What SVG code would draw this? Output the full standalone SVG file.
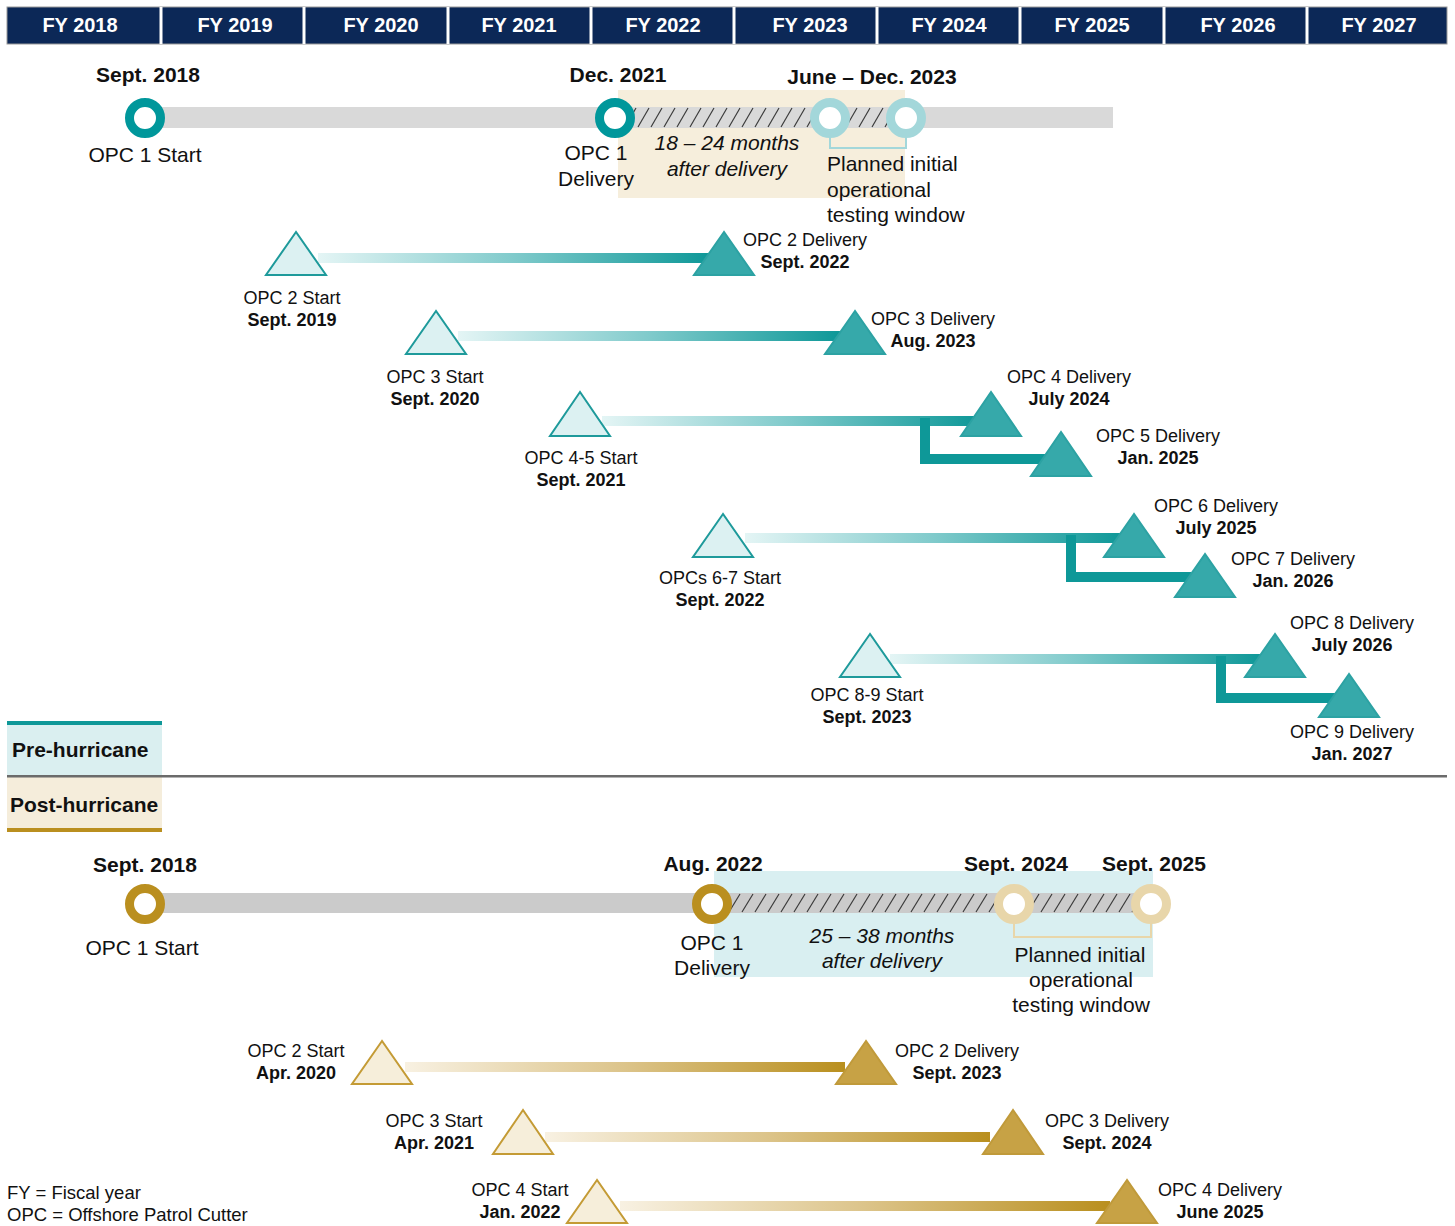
<svg xmlns="http://www.w3.org/2000/svg" width="1455" height="1226" viewBox="0 0 1455 1226">
<defs>
<style>
text{font-family:"Liberation Sans",Arial,sans-serif;fill:#111;}
.hd{font-size:20px;font-weight:bold;fill:#fff;text-anchor:middle;}
.big{font-size:21px;}
.bb{font-size:21px;font-weight:bold;}
.it{font-size:21px;font-style:italic;}
.sm{font-size:18px;}
.sb{font-size:18px;font-weight:bold;}
.fn{font-size:18.5px;}
.c{text-anchor:middle;}
.ringD{fill:#fff;stroke:#00979B;stroke-width:9;}
.ringL{fill:#fff;stroke:#A3D7DA;stroke-width:9;}
.ringG{fill:#fff;stroke:#BA8F1F;stroke-width:9;}
.ringGL{fill:#fff;stroke:#E8D6AA;stroke-width:9;}
.tS{fill:#DCF1F2;stroke:#1E9A9B;stroke-width:2;}
.tD{fill:#36A9AA;stroke:#2CA2A3;stroke-width:2;}
.gS{fill:#F6EEDA;stroke:#C49B35;stroke-width:2;}
.gD{fill:#C7A245;stroke:#C09A3A;stroke-width:2;}
.tb{fill:#0E9898;}
</style>
<linearGradient id="gT" x1="0" y1="0" x2="1" y2="0">
<stop offset="0" stop-color="#E4F5F5"/>
<stop offset="0.5" stop-color="#7FCACB"/>
<stop offset="1" stop-color="#0C9797"/>
</linearGradient>
<linearGradient id="gG" x1="0" y1="0" x2="1" y2="0">
<stop offset="0" stop-color="#F8F1E2"/>
<stop offset="0.5" stop-color="#DCC48A"/>
<stop offset="1" stop-color="#B98F1E"/>
</linearGradient>
<pattern id="hatch" patternUnits="userSpaceOnUse" x="0" y="107" width="13" height="21">
<line x1="1" y1="20" x2="12" y2="1" stroke="#3a3a3a" stroke-width="1.2"/>
</pattern>
<pattern id="hatch2" patternUnits="userSpaceOnUse" x="0" y="893" width="13" height="20">
<line x1="1" y1="19" x2="12" y2="1" stroke="#3a3a3a" stroke-width="1.2"/>
</pattern>
</defs>
<rect width="1455" height="1226" fill="#fff"/>

<g id="header">
<rect x="7" y="7" width="1440" height="37" fill="#0C2857" stroke="#9a9a9a" stroke-width="1"/>
<g stroke="#fff" stroke-width="3">
<line x1="161" y1="7" x2="161" y2="44"/><line x1="304" y1="7" x2="304" y2="44"/>
<line x1="448" y1="7" x2="448" y2="44"/><line x1="591" y1="7" x2="591" y2="44"/>
<line x1="734" y1="7" x2="734" y2="44"/><line x1="877" y1="7" x2="877" y2="44"/>
<line x1="1020" y1="7" x2="1020" y2="44"/><line x1="1164" y1="7" x2="1164" y2="44"/>
<line x1="1307" y1="7" x2="1307" y2="44"/>
</g>
<text class="hd" x="80" y="32">FY 2018</text>
<text class="hd" x="235" y="32">FY 2019</text>
<text class="hd" x="381" y="32">FY 2020</text>
<text class="hd" x="519" y="32">FY 2021</text>
<text class="hd" x="663" y="32">FY 2022</text>
<text class="hd" x="810" y="32">FY 2023</text>
<text class="hd" x="949" y="32">FY 2024</text>
<text class="hd" x="1092" y="32">FY 2025</text>
<text class="hd" x="1238" y="32">FY 2026</text>
<text class="hd" x="1379" y="32">FY 2027</text>
</g>

<g id="connectors">
<rect x="618" y="90" width="287" height="108" fill="#F6EEDC"/>
<rect x="145" y="107" width="968" height="21" fill="#D9D9D9"/>
<rect x="630" y="107" width="262" height="21" fill="url(#hatch)"/>
<path d="M830 133 V148 H906 V133" fill="none" stroke="#A3D7DA" stroke-width="2"/>

<rect x="318" y="253" width="395" height="10" fill="url(#gT)"/>
<rect x="458" y="331" width="385" height="10" fill="url(#gT)"/>
<rect x="602" y="416" width="380" height="10" fill="url(#gT)"/>
<rect class="tb" x="920" y="418" width="10" height="46"/>
<rect class="tb" x="920" y="454" width="125" height="10"/>
<rect x="745" y="533" width="380" height="10" fill="url(#gT)"/>
<rect class="tb" x="1066" y="535" width="10" height="47"/>
<rect class="tb" x="1066" y="572" width="125" height="10"/>
<rect x="890" y="654" width="375" height="10" fill="url(#gT)"/>
<rect class="tb" x="1216" y="656" width="10" height="47"/>
<rect class="tb" x="1216" y="693" width="120" height="10"/>

<rect x="714" y="871" width="439" height="106" fill="#D9EFF1"/>
<rect x="145" y="893" width="1006" height="20" fill="#CBCBCB"/>
<rect x="728" y="893" width="408" height="20" fill="url(#hatch2)"/>
<path d="M1014 918 V937 H1151 V918" fill="none" stroke="#E8D6AA" stroke-width="2"/>

<rect x="405" y="1062" width="440" height="10" fill="url(#gG)"/>
<rect x="545" y="1132" width="445" height="10" fill="url(#gG)"/>
<rect x="620" y="1201" width="490" height="10" fill="url(#gG)"/>
</g>

<g id="pre-opc1-start">
<circle class="ringD" cx="145" cy="118" r="15.5"/>
<text class="bb c" x="148" y="82">Sept. 2018</text>
<text class="big c" x="145" y="162">OPC 1 Start</text>
</g>
<g id="pre-opc1-delivery">
<circle class="ringD" cx="615" cy="118" r="15.5"/>
<text class="bb c" x="618" y="82">Dec. 2021</text>
<text class="big c" x="596" y="160">OPC 1</text>
<text class="big c" x="596" y="186">Delivery</text>
</g>
<g id="pre-months">
<text class="it c" x="727" y="150">18 – 24 months</text>
<text class="it c" x="727" y="176">after delivery</text>
</g>
<g id="pre-testing">
<circle class="ringL" cx="830" cy="118" r="15.5"/>
<circle class="ringL" cx="906" cy="118" r="15.5"/>
<text class="bb c" x="872" y="84">June – Dec. 2023</text>
<text class="big" x="827" y="171">Planned initial</text>
<text class="big" x="827" y="197">operational</text>
<text class="big" x="827" y="222">testing window</text>
</g>

<g id="pre-opc2">
<polygon class="tS" points="296,232 266,275 326,275"/>
<polygon class="tD" points="724,232 694,275 754,275"/>
<text class="sm c" x="292" y="303.5">OPC 2 Start</text>
<text class="sb c" x="292" y="325.5">Sept. 2019</text>
<text class="sm c" x="805" y="245.5">OPC 2 Delivery</text>
<text class="sb c" x="805" y="267.5">Sept. 2022</text>
</g>
<g id="pre-opc3">
<polygon class="tS" points="436,311 406,354 466,354"/>
<polygon class="tD" points="855,311 825,354 885,354"/>
<text class="sm c" x="435" y="382.5">OPC 3 Start</text>
<text class="sb c" x="435" y="404.5">Sept. 2020</text>
<text class="sm c" x="933" y="324.5">OPC 3 Delivery</text>
<text class="sb c" x="933" y="346.5">Aug. 2023</text>
</g>
<g id="pre-opc45">
<polygon class="tS" points="580,392 550,436 610,436"/>
<polygon class="tD" points="991,392 961,436 1021,436"/>
<polygon class="tD" points="1061,432 1031,476 1091,476"/>
<text class="sm c" x="581" y="463.5">OPC 4-5 Start</text>
<text class="sb c" x="581" y="485.5">Sept. 2021</text>
<text class="sm c" x="1069" y="382.5">OPC 4 Delivery</text>
<text class="sb c" x="1069" y="404.5">July 2024</text>
<text class="sm c" x="1158" y="441.5">OPC 5 Delivery</text>
<text class="sb c" x="1158" y="463.5">Jan. 2025</text>
</g>
<g id="pre-opc67">
<polygon class="tS" points="723,514 693,557 753,557"/>
<polygon class="tD" points="1134,514 1104,557 1164,557"/>
<polygon class="tD" points="1205,554 1175,597 1235,597"/>
<text class="sm c" x="720" y="583.5">OPCs 6-7 Start</text>
<text class="sb c" x="720" y="605.5">Sept. 2022</text>
<text class="sm c" x="1216" y="511.5">OPC 6 Delivery</text>
<text class="sb c" x="1216" y="533.5">July 2025</text>
<text class="sm c" x="1293" y="564.5">OPC 7 Delivery</text>
<text class="sb c" x="1293" y="586.5">Jan. 2026</text>
</g>
<g id="pre-opc89">
<polygon class="tS" points="870,634 840,677 900,677"/>
<polygon class="tD" points="1275,634 1245,677 1305,677"/>
<polygon class="tD" points="1349,674 1319,717 1379,717"/>
<text class="sm c" x="867" y="700.5">OPC 8-9 Start</text>
<text class="sb c" x="867" y="722.5">Sept. 2023</text>
<text class="sm c" x="1352" y="628.5">OPC 8 Delivery</text>
<text class="sb c" x="1352" y="650.5">July 2026</text>
<text class="sm c" x="1352" y="737.5">OPC 9 Delivery</text>
<text class="sb c" x="1352" y="759.5">Jan. 2027</text>
</g>

<g id="legend">
<rect x="7" y="722" width="155" height="54" fill="#DAEFF0"/>
<rect x="7" y="721" width="155" height="4" fill="#0E9898"/>
<text class="bb" x="12" y="757">Pre-hurricane</text>
<rect x="7" y="777" width="155" height="54" fill="#F5EDDB"/>
<rect x="7" y="828" width="155" height="4" fill="#BA8F1F"/>
<text class="bb" x="10" y="812">Post-hurricane</text>
<rect x="7" y="775" width="1440" height="2.5" fill="#6B6B6B"/>
</g>

<g id="post-opc1-start">
<circle class="ringG" cx="145" cy="904" r="15.5"/>
<text class="bb c" x="145" y="872">Sept. 2018</text>
<text class="big c" x="142" y="955">OPC 1 Start</text>
</g>
<g id="post-opc1-delivery">
<circle class="ringG" cx="712" cy="904" r="15.5"/>
<text class="bb c" x="713" y="871">Aug. 2022</text>
<text class="big c" x="712" y="950">OPC 1</text>
<text class="big c" x="712" y="975">Delivery</text>
</g>
<g id="post-months">
<text class="it c" x="882" y="943">25 – 38 months</text>
<text class="it c" x="882" y="968">after delivery</text>
</g>
<g id="post-testing">
<circle class="ringGL" cx="1014" cy="904" r="15.5"/>
<circle class="ringGL" cx="1151" cy="904" r="15.5"/>
<text class="bb c" x="1016" y="871">Sept. 2024</text>
<text class="bb c" x="1154" y="871">Sept. 2025</text>
<text class="big c" x="1080" y="962">Planned initial</text>
<text class="big c" x="1081" y="987">operational</text>
<text class="big c" x="1081" y="1012">testing window</text>
</g>

<g id="post-opc2">
<polygon class="gS" points="382,1041 352,1084 412,1084"/>
<polygon class="gD" points="866,1041 836,1084 896,1084"/>
<text class="sm c" x="296" y="1056.5">OPC 2 Start</text>
<text class="sb c" x="296" y="1078.5">Apr. 2020</text>
<text class="sm c" x="957" y="1056.5">OPC 2 Delivery</text>
<text class="sb c" x="957" y="1078.5">Sept. 2023</text>
</g>
<g id="post-opc3">
<polygon class="gS" points="523,1110 493,1154 553,1154"/>
<polygon class="gD" points="1013,1110 983,1154 1043,1154"/>
<text class="sm c" x="434" y="1126.5">OPC 3 Start</text>
<text class="sb c" x="434" y="1148.5">Apr. 2021</text>
<text class="sm c" x="1107" y="1126.5">OPC 3 Delivery</text>
<text class="sb c" x="1107" y="1148.5">Sept. 2024</text>
</g>
<g id="post-opc4">
<polygon class="gS" points="597,1180 567,1223 627,1223"/>
<polygon class="gD" points="1127,1180 1097,1223 1157,1223"/>
<text class="sm c" x="520" y="1195.5">OPC 4 Start</text>
<text class="sb c" x="520" y="1217.5">Jan. 2022</text>
<text class="sm c" x="1220" y="1195.5">OPC 4 Delivery</text>
<text class="sb c" x="1220" y="1217.5">June 2025</text>
</g>

<g id="footnotes">
<text class="fn" x="7" y="1199">FY = Fiscal year</text>
<text class="fn" x="7" y="1221">OPC = Offshore Patrol Cutter</text>
</g>
</svg>
